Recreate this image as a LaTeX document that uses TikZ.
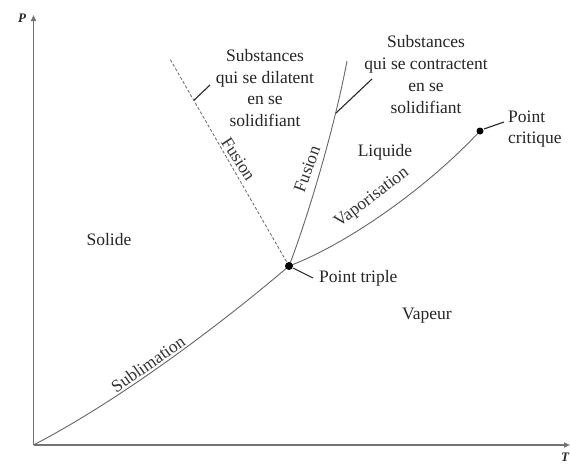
\documentclass[tikz,border=0pt]{standalone}
\usepackage{fontspec}
\setmainfont{LiberationSerif}[Extension=.ttf, UprightFont=*-Regular, ItalicFont=*-Italic, BoldFont=*-Bold, BoldItalicFont=*-BoldItalic]
\usetikzlibrary{arrows.meta,calc}
\begin{document}
\begin{tikzpicture}[x=1pt,y=-1pt,
  curve/.style={draw=black!60, line width=0.9pt},
  dashcurve/.style={draw=black!60, line width=0.8pt, dash pattern=on 3pt off 2pt},
  axis/.style={draw=black!55, line width=1.6pt, -{Triangle[length=6pt,width=5pt]}},
  leader/.style={draw=black!85, line width=1.1pt},
  lbl/.style={font=\rmfamily\fontsize{17.5}{21.7}\selectfont, text=black!85, inner sep=0pt, align=center},
  curvelbl/.style={font=\rmfamily\fontsize{17.5}{21}\selectfont, text=black!80, inner sep=0pt},
  axlbl/.style={font=\fontsize{13}{15}\selectfont\itshape\bfseries, text=black!85, inner sep=0pt},
  dot/.style={circle, fill=black, inner sep=0pt, minimum size=8pt}]
\useasboundingbox (0,0) rectangle (570,463);
\fill[white] (0,0) rectangle (570,463);
% key points
\coordinate (O) at (33.5,445);
\coordinate (Ptop) at (33.5,15);
\coordinate (Tend) at (570,445);
\coordinate (tp) at (289,266);
\coordinate (cp) at (480,131);
\coordinate (DT) at (170,59);
\coordinate (FT) at (347,61);
\coordinate (DL) at ($(tp)!0.8!(DT)$);
\coordinate (DLe) at (210,85);
\coordinate (FL) at (336,113);
\coordinate (FLe) at (372,79);
% axes
\draw[axis] (O) -- (Ptop);
\draw[axis] (O) -- (Tend);
\node[axlbl] (P) at (22,18) {P};
\node[axlbl] (T) at (565,457) {T};
% curves
\draw[curve] (O) .. controls (120,400) and (220,325) .. (tp);
\draw[curve] (tp) .. controls (345,245) and (425,190) .. (cp);
\draw[curve] (tp) .. controls (305,225) and (333,135) .. (FT);
\draw[dashcurve] (tp) -- (DT);
% leaders
\draw[leader] (DL) -- (DLe);
\draw[leader] (FL) -- (FLe);
% dots
\node[dot] (TP) at (tp) {};
\node[dot, minimum size=7pt] (CP) at (cp) {};
% labels
\node[lbl] (dil) at (265,88) {Substances\\qui se dilatent\\en se\\solidifiant};
\node[lbl] (con) at (426,74.5) {Substances\\qui se contractent\\en se\\solidifiant};
\node[lbl, anchor=west, align=left] (crit) at (508,129) {Point\\critique};
\node[lbl, anchor=west] (trip) at (319,278) {Point triple};
\node[lbl] (liq) at (385,152) {Liquide};
\node[lbl] (sol) at (109,240) {Solide};
\node[lbl] (vap) at (427,316) {Vapeur};
\draw[leader] (CP.center) ++(4,-2) -- (504,122);
\draw[leader] (TP.center) ++(4,2) -- (313,278);
\node[curvelbl, rotate=-57] (fd) at (238.5,159) {Fusion};
\node[curvelbl, rotate=70] (fs) at (307,169) {Fusion};
\node[curvelbl, rotate=37] (vapl) at (372,198) {Vaporisation};
\node[curvelbl, rotate=35] (subl) at (148,364) {Sublimation};
\end{tikzpicture}
\end{document}
